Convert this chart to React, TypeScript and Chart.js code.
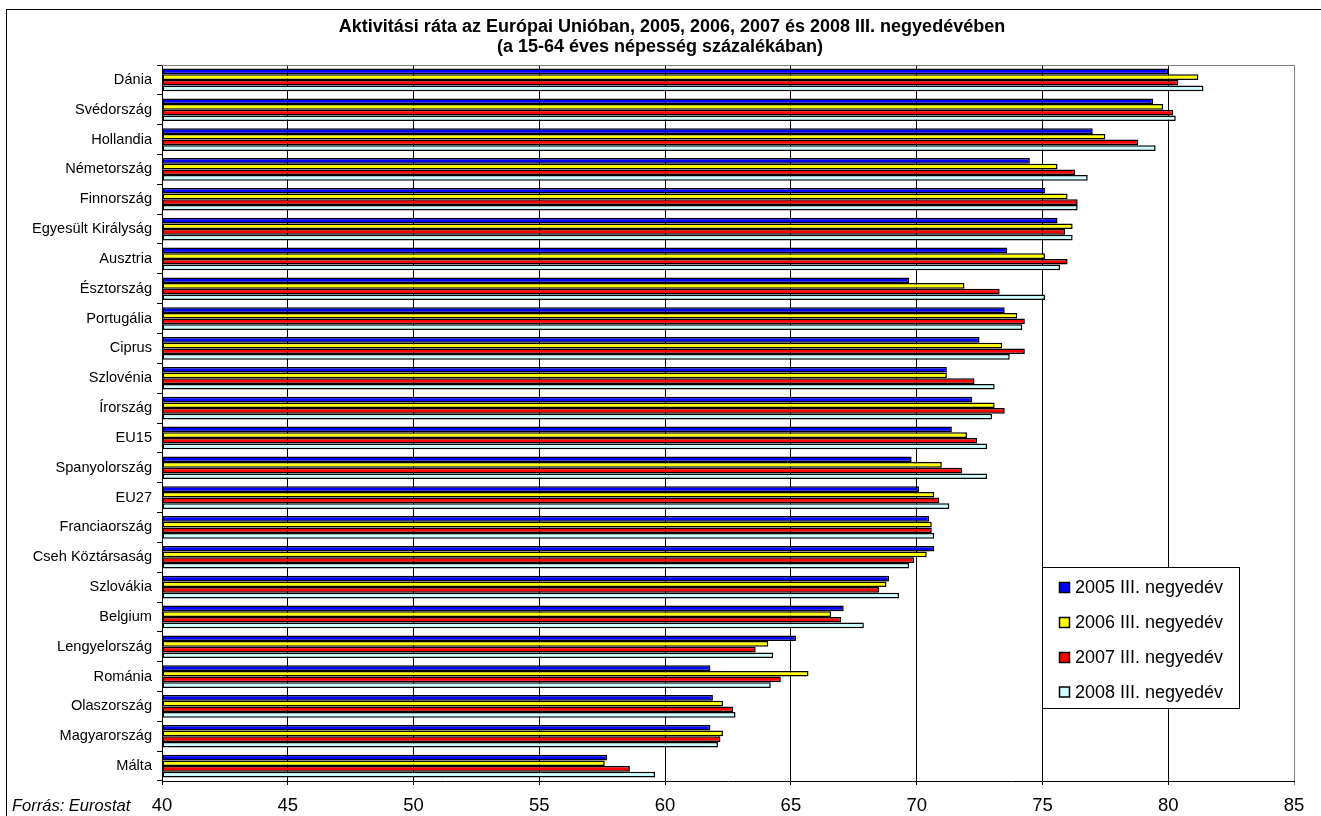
import React, { useEffect, useRef } from "react";
import { Chart, registerables } from "chart.js";

Chart.register(...registerables);

const categories = [
  "Dánia", "Svédország", "Hollandia", "Németország", "Finnország", "Egyesült Királyság",
  "Ausztria", "Észtország", "Portugália", "Ciprus", "Szlovénia", "Írország", "EU15",
  "Spanyolország", "EU27", "Franciaország", "Cseh Köztársaság", "Szlovákia", "Belgium",
  "Lengyelország", "Románia", "Olaszország", "Magyarország", "Málta",
];

const q2005 = [80.0, 79.4, 77.0, 74.5, 75.1, 75.6, 73.6, 69.7, 73.5, 72.5, 71.2, 72.2, 71.4, 69.8, 70.1, 70.5, 70.7, 68.9, 67.1, 65.2, 61.8, 61.9, 61.8, 57.7];
const q2006 = [81.2, 79.8, 77.5, 75.6, 76.0, 76.2, 75.1, 71.9, 74.0, 73.4, 71.2, 73.1, 72.0, 71.0, 70.7, 70.6, 70.4, 68.8, 66.6, 64.1, 65.7, 62.3, 62.3, 57.6];
const q2007 = [80.4, 80.2, 78.8, 76.3, 76.4, 75.9, 76.0, 73.3, 74.3, 74.3, 72.3, 73.5, 72.4, 71.8, 70.9, 70.6, 69.9, 68.5, 67.0, 63.6, 64.6, 62.7, 62.2, 58.6];
const q2008 = [81.4, 80.3, 79.5, 76.8, 76.4, 76.2, 75.7, 75.1, 74.2, 73.7, 73.1, 73.0, 72.8, 72.8, 71.3, 70.7, 69.7, 69.3, 67.9, 64.3, 64.2, 62.8, 62.1, 59.6];

const seriesLabels = ["2005 III. negyedév", "2006 III. negyedév", "2007 III. negyedév", "2008 III. negyedév"];
const seriesColors = ["#0000FF", "#FFFF00", "#FF0000", "#CCFFFF"];

const titleLines = [
  "Aktivitási ráta az Európai Unióban, 2005, 2006, 2007 és 2008 III. negyedévében",
  "(a 15-64 éves népesség százalékában)",
];
const sourceText = "Forrás: Eurostat";

const FONT = "'Liberation Sans', Arial, sans-serif";

const decorPlugin = {
  id: "decor",
  beforeDraw(chart: any) {
    const ctx = chart.ctx;
    ctx.save();
    ctx.fillStyle = "#fff";
    ctx.fillRect(0, 0, chart.width, chart.height);
    ctx.strokeStyle = "#000";
    ctx.lineWidth = 1;
    ctx.strokeRect(6.5, 9.5, 1400, 900);
    ctx.restore();
  },
  afterDraw(chart: any) {
    const ctx = chart.ctx;
    const area = chart.chartArea;
    ctx.save();
    ctx.strokeStyle = "#808080";
    ctx.lineWidth = 1;
    ctx.beginPath();
    ctx.moveTo(area.left, Math.round(area.top) + 0.5);
    ctx.lineTo(area.right, Math.round(area.top) + 0.5);
    ctx.stroke();
    ctx.fillStyle = "#000";
    ctx.font = `bold 18px ${FONT}`;
    ctx.textAlign = "center";
    ctx.textBaseline = "middle";
    ctx.fillText(titleLines[0], 672, 27);
    ctx.fillText(titleLines[1], 660, 47);
    ctx.font = `italic 16.5px ${FONT}`;
    ctx.textAlign = "left";
    ctx.fillText(sourceText, 12, 806);
    const lx = 1042, ly = 567, lw = 197, lh = 141;
    ctx.fillStyle = "#fff";
    ctx.fillRect(lx, ly, lw, lh);
    ctx.strokeStyle = "#000";
    ctx.strokeRect(lx + 0.5, ly + 0.5, lw, lh);
    const rows = [587.5, 622.5, 657.5, 692];
    chart.data.datasets.forEach((ds: any, i: number) => {
      const y = rows[i];
      ctx.fillStyle = ds.backgroundColor;
      ctx.fillRect(1059, y - 5.5, 11, 11);
      ctx.strokeStyle = "#000";
      ctx.lineWidth = 1.5;
      ctx.strokeRect(1059.5, y - 5, 10, 10);
      ctx.fillStyle = "#000";
      ctx.font = `18px ${FONT}`;
      ctx.textAlign = "left";
      ctx.textBaseline = "middle";
      ctx.fillText(ds.label, 1075, y + 1);
    });
    ctx.restore();
  },
};

export default function App() {
  const ref = useRef<HTMLCanvasElement | null>(null);
  useEffect(() => {
    if (!ref.current) return;
    const values = [q2005, q2006, q2007, q2008];
    const chart = new Chart(ref.current, {
      type: "bar",
      data: {
        labels: categories,
        datasets: values.map((v, i) => ({
          label: seriesLabels[i],
          data: v,
          base: 40,
          backgroundColor: seriesColors[i],
          borderColor: "#000",
          borderWidth: 1.5,
          borderSkipped: false,
          barPercentage: 1,
          categoryPercentage: 0.76,
        })),
      },
      options: {
        indexAxis: "y",
        animation: false,
        responsive: false,
        maintainAspectRatio: false,
        layout: { padding: { left: 0, right: 27, top: 65, bottom: 0 } },
        plugins: {
          legend: { display: false },
          title: { display: false },
          tooltip: { enabled: false },
        },
        scales: {
          x: {
            type: "linear",
            min: 40,
            max: 85,
            ticks: {
              stepSize: 5,
              color: "#000",
              padding: 10,
              font: { family: FONT, size: 18.5 },
            },
            grid: {
              color: (c: any) => (c.tick && c.tick.value === 85 ? "#808080" : "#000"),
              lineWidth: 1,
              drawTicks: true,
              tickLength: 4,
            },
            border: { display: true, color: "#000", width: 1 },
            afterFit: (s: any) => { s.height = 35; },
          },
          y: {
            type: "category",
            ticks: {
              color: "#000",
              padding: 5,
              font: { family: FONT, size: 14.6 },
            },
            grid: {
              offset: true,
              drawOnChartArea: false,
              drawTicks: true,
              tickLength: 5,
              color: "#000",
            },
            border: { display: true, color: "#000", width: 1 },
            afterFit: (s: any) => { s.width = 162; },
          },
        },
      },
      plugins: [decorPlugin],
    } as any);
    return () => chart.destroy();
  }, []);
  return (
    <div style={{ position: "absolute", left: 0, top: 0, width: 1321, height: 816, background: "#fff" }}>
      <canvas ref={ref} width={1321} height={816} style={{ display: "block" }} />
    </div>
  );
}
